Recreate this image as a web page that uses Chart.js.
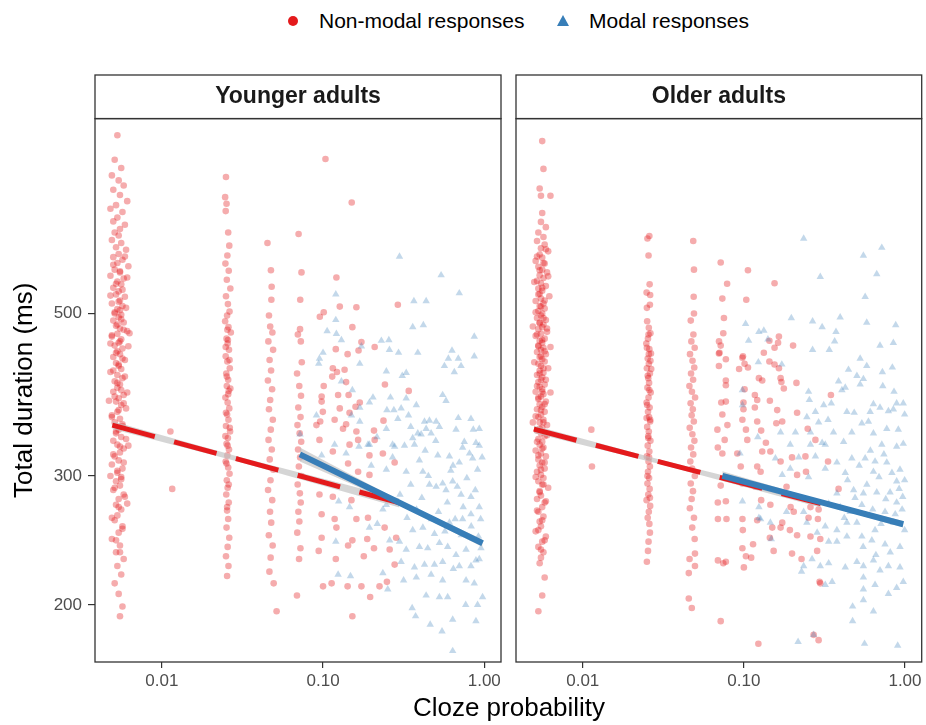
<!DOCTYPE html>
<html>
<head>
<meta charset="utf-8">
<script src="https://cdn.jsdelivr.net/npm/chart.js@4.4.1/dist/chart.umd.min.js"></script>
<style>
  body { margin: 0; background: #fff; font-family: "Liberation Sans", Arial, sans-serif; }
  #wrap { position: relative; width: 926px; height: 725px; overflow: hidden; }
  #wrap canvas { position: absolute; top: 0; }
  .lg-text { position: absolute; top: 8px; font-size: 21px; line-height: 26px; color: #000; white-space: nowrap; }
  .lg-dot { position: absolute; left: 288px; top: 16px; width: 10px; height: 10px; border-radius: 50%; background: #E41A1C; }
  .lg-tri { position: absolute; left: 557px; top: 15px; width: 0; height: 0;
            border-left: 6px solid transparent; border-right: 6px solid transparent; border-bottom: 11px solid #377EB8; }
  #xtitle { position: absolute; left: 309px; width: 400px; top: 692px; text-align: center; font-size: 26px; line-height: 30px; color: #000; }
</style>
</head>
<body>
<div id="wrap">
  <div class="lg-dot"></div>
  <div class="lg-text" style="left:319px">Non-modal responses</div>
  <div class="lg-tri"></div>
  <div class="lg-text" style="left:589px">Modal responses</div>
  <canvas id="youngChart" width="510" height="725" style="left:0"></canvas>
  <canvas id="olderChart" width="416" height="725" style="left:510px"></canvas>
  <div id="xtitle">Cloze probability</div>
</div>
<script>
// Cloze probability vs total duration, by age group

const panelTitles = ['Younger adults', 'Older adults'];
const xTicks = [0.01, 0.1, 1];
const yTicks = [200, 300, 500];

// younger adults: [cloze, duration]
const youngNonModal = [
  [0.0053,876],[0.0051,811],[0.0056,790],[0.0049,772],[0.0054,760],[0.0058,748],[0.0050,738],[0.0055,726],[0.0061,712],[0.0052,703],
  [0.0048,695],[0.0057,688],[0.0053,676],[0.0050,668],[0.0059,661],[0.0055,652],[0.0051,645],[0.0054,639],[0.0049,630],[0.0056,624],
  [0.0052,616],[0.0060,611],[0.0054,603],[0.0050,597],[0.0057,592],[0.0053,586],[0.0062,580],[0.0051,574],[0.0055,569],[0.0048,563],
  [0.0058,558],[0.0053,553],[0.0056,548],[0.0050,542],[0.0054,536],[0.0052,531],[0.0059,527],[0.0055,521],[0.0049,516],[0.0057,512],
  [0.0053,507],[0.0051,502],[0.0056,498],[0.0054,494],[0.0050,489],[0.0058,486],[0.0052,481],[0.0055,477],[0.0061,473],[0.0053,469],
  [0.0049,465],[0.0056,461],[0.0054,456],[0.0051,452],[0.0057,448],[0.0053,444],[0.0055,440],[0.0050,436],[0.0059,432],[0.0052,428],
  [0.0054,424],[0.0056,420],[0.0048,416],[0.0053,412],[0.0057,408],[0.0051,404],[0.0055,400],[0.0053,396],[0.0050,391],[0.0058,387],
  [0.0054,383],[0.0052,379],[0.0056,375],[0.0060,371],[0.0053,367],[0.0049,363],[0.0055,359],[0.0051,355],[0.0057,351],[0.0054,347],
  [0.0052,343],[0.0056,339],[0.0050,335],[0.0053,331],[0.0058,327],[0.0055,323],[0.0051,319],[0.0054,315],[0.0049,311],[0.0057,307],
  [0.0053,303],[0.0056,299],[0.0052,295],[0.0055,291],[0.0050,287],[0.0058,283],[0.0054,279],[0.0052,274],[0.0056,270],[0.0053,265],
  [0.0051,261],[0.0057,256],[0.0054,251],[0.0049,246],[0.0055,241],[0.0052,236],[0.0058,231],[0.0053,226],[0.0056,220],[0.0051,214],
  [0.0054,207],[0.0057,199],[0.0055,193],
  [0.0059,598],[0.0050,583],[0.0055,571],[0.0061,560],[0.0052,549],[0.0057,539],[0.0048,529],[0.0054,519],[0.0060,509],[0.0051,500],
  [0.0056,491],[0.0053,483],[0.0058,475],[0.0049,467],[0.0055,458],[0.0062,451],[0.0052,442],[0.0057,434],[0.0054,426],[0.0050,418],
  [0.0059,410],[0.0053,402],[0.0056,393],[0.0051,385],[0.0058,377],[0.0054,369],[0.0049,361],[0.0057,353],[0.0052,345],[0.0060,337],
  [0.0055,329],[0.0050,321],[0.0058,313],[0.0053,305],[0.0056,297],[0.0051,289],[0.0059,281],[0.0054,272],[0.0049,263],[0.0057,254],
  [0.0052,245],[0.0055,236],[0.0061,390],[0.0048,455],[0.0062,330],[0.0047,380],[0.0063,470],[0.0048,300],[0.0061,275],[0.0055,505],
  [0.0250,768],[0.0247,721],[0.0252,706],[0.0249,690],[0.0258,645],[0.0262,619],[0.0255,600],[0.0248,585],[0.0260,572],[0.0253,556],
  [0.0266,541],[0.0250,528],[0.0257,515],[0.0263,503],[0.0254,497],[0.0247,488],[0.0259,479],[0.0268,471],[0.0252,462],[0.0256,455],
  [0.0261,446],[0.0249,437],[0.0255,430],[0.0264,421],[0.0251,414],[0.0258,406],[0.0253,398],[0.0260,392],[0.0248,384],[0.0256,378],
  [0.0262,371],[0.0254,364],[0.0259,358],[0.0250,351],[0.0265,345],[0.0257,338],[0.0252,332],[0.0261,326],[0.0255,320],[0.0249,314],
  [0.0258,308],[0.0263,302],[0.0253,296],[0.0256,289],[0.0251,283],[0.0260,276],[0.0254,269],[0.0258,262],[0.0252,255],[0.0262,247],
  [0.0256,240],[0.0250,233],[0.0259,226],[0.0254,219],
  [0.0255,475],[0.0249,450],[0.0263,432],[0.0253,410],[0.0258,388],[0.0250,366],[0.0264,349],[0.0256,330],[0.0252,312],[0.0260,292],
  [0.0254,272],[0.0248,340],[0.0266,395],[0.0257,460],
  [0.0452,624],[0.0475,573],[0.0480,544],[0.0478,522],[0.0462,497],[0.0470,480],[0.0485,471],[0.0458,458],[0.0490,446],[0.0466,432],
  [0.0476,418],[0.0455,405],[0.0483,394],[0.0470,381],[0.0462,370],[0.0488,358],[0.0474,347],[0.0459,336],[0.0481,326],[0.0467,316],
  [0.0492,306],[0.0472,296],[0.0456,287],[0.0484,278],[0.0469,268],[0.0477,259],[0.0461,249],[0.0487,241],[0.0473,232],[0.0465,222],
  [0.0494,214],[0.0515,196],
  [0.0705,642],[0.0735,569],[0.0722,522],[0.0720,476],[0.0698,468],[0.0728,458],[0.0738,429],[0.0690,414],[0.0712,398],[0.0730,386],
  [0.0702,372],[0.0725,361],[0.0694,352],[0.0716,343],[0.0732,334],[0.0700,326],[0.0721,318],[0.0708,309],[0.0736,300],[0.0696,292],
  [0.0718,284],[0.0727,276],[0.0703,268],[0.0713,260],[0.0692,251],[0.0724,239],[0.0710,231],[0.0689,206],
  [0.1035,813],[0.1506,709],[0.121,560],[0.127,511],[0.161,510],[0.291,514],[0.0955,495],[0.101,502],[0.152,479],[0.173,457],
  [0.209,450],[0.166,445],[0.142,440],[0.120,447],[0.136,419],[0.122,416],[0.115,421],[0.114,410],[0.139,403],[0.101,398],
  [0.124,387],[0.144,387],[0.242,400],[0.340,392],[0.098,385],[0.098,379],[0.169,378],[0.159,373],[0.127,371],[0.146,366],
  [0.0997,367],[0.118,358],[0.096,356],[0.091,352],[0.139,353],[0.161,345],[0.207,346],[0.133,348],[0.165,336],[0.095,336],
  [0.237,357],[0.209,336],[0.115,324],[0.146,331],[0.194,320],[0.235,322],[0.278,313],[0.143,312],[0.165,304],[0.194,301],
  [0.115,281],[0.150,278],[0.095,283],[0.098,266],[0.161,262],[0.190,263],[0.241,255],[0.118,262],[0.121,255],[0.098,247],
  [0.188,246],[0.152,245],[0.143,241],[0.207,239],[0.259,238],[0.284,247],[0.094,237],[0.179,233],[0.120,231],[0.278,227],
  [0.100,212],[0.113,214],[0.142,212],[0.173,212],[0.224,212],[0.249,215],[0.196,205],[0.152,193],
  [0.0113,345],[0.0116,288]
];
const youngModal = [
  [0.298,598],[0.540,564],[0.700,533],[0.120,531],[0.366,520],[0.436,520],[0.120,490],[0.106,473],[0.121,469],[0.130,460],
  [0.360,479],[0.419,482],[0.230,459],[0.256,460],[0.867,465],[0.173,451],[0.258,446],[0.294,442],[0.387,442],[0.631,445],
  [0.599,434],[0.690,434],[0.867,437],[0.100,442],[0.095,434],[0.094,427],[0.169,427],[0.566,424],[0.718,424],[0.652,416],
  [0.247,417],[0.328,415],[0.310,411],[0.130,404],[0.152,393],[0.552,387],[0.579,380],[0.204,384],[0.194,378],[0.262,384],
  [0.328,383],[0.379,375],[0.169,372],[0.249,369],[0.275,369],[0.305,371],[0.339,363],[0.091,363],[0.150,363],[0.291,359],
  [0.426,356],[0.457,357],[0.503,356],[0.690,360],[0.827,359],[0.931,348],[0.855,347],[0.436,348],[0.527,350],[0.668,347],
  [0.247,348],[0.169,356],[0.387,343],[0.360,338],[0.468,343],[0.406,342],[0.752,334],[0.888,333],[0.270,331],[0.216,339],
  [0.194,331],[0.072,342],
  [0.098,320],[0.118,331],[0.139,322],[0.167,329],[0.190,331],[0.278,329],[0.320,330],[0.369,331],[0.734,328],[0.931,330],
  [0.199,310],[0.270,318],[0.396,315],[0.515,320],[0.608,319],[0.700,313],[0.847,317],[0.909,306],[0.416,304],[0.328,304],
  [0.247,306],[0.457,292],[0.503,290],[0.552,293],[0.637,295],[0.579,287],[0.718,283],[0.827,281],[0.931,272],[0.827,266],
  [0.734,262],[0.608,259],[0.491,250],[0.416,255],[0.360,253],[0.332,263],[0.247,274],[0.235,270],[0.125,277],[0.146,272],
  [0.217,258],[0.194,255],[0.259,245],[0.298,244],[0.328,238],[0.396,240],[0.446,239],[0.527,243],[0.593,240],[0.668,234],
  [0.771,238],[0.888,230],[0.954,239],[0.305,229],[0.369,225],[0.426,227],[0.491,227],[0.552,229],[0.643,224],[0.700,226],
  [0.827,226],[0.931,231],[0.120,244],[0.124,220],[0.148,219],[0.235,221],[0.252,210],[0.316,216],[0.379,218],[0.468,220],
  [0.552,216],[0.771,216],[0.867,214],[0.436,206],[0.527,205],[0.593,205],[0.767,200],[0.909,200],[0.976,205],[0.357,198],
  [0.375,193],[0.462,188],[0.637,191],[0.888,190],[0.547,184],[0.637,173],
  [0.450,300],[0.620,305],[0.780,298],[0.350,292],[0.680,290],[0.880,287],[0.410,280],[0.590,276],[0.740,272],[0.950,262],
  [0.520,268],[0.660,262],[0.830,256],[0.470,262],[0.300,283],[0.380,270],[0.570,252],[0.720,249],[0.920,248],[0.640,310],
  [0.500,335],[0.810,322],[0.430,325],[0.970,318],[0.350,350]
];

// older adults: [cloze, duration]
const olderNonModal = [
  [0.0056,860],[0.0057,788],[0.0054,741],[0.0055,724],[0.0063,724],[0.0056,686],[0.0055,667],[0.0059,656],[0.0053,645],[0.0057,636],
  [0.0052,628],[0.0058,621],[0.0055,614],[0.0061,608],[0.0054,602],[0.0056,596],[0.0051,590],[0.0058,585],[0.0053,579],[0.0056,574],
  [0.0060,569],[0.0054,564],[0.0057,559],[0.0052,554],[0.0055,550],[0.0059,545],[0.0053,541],[0.0056,537],[0.0054,532],[0.0062,528],
  [0.0055,524],[0.0051,520],[0.0057,516],[0.0054,512],[0.0058,508],[0.0053,504],[0.0056,500],[0.0055,497],[0.0052,493],[0.0059,490],
  [0.0054,486],[0.0057,483],[0.0056,479],[0.0053,476],[0.0060,472],[0.0055,469],[0.0051,466],[0.0058,462],[0.0054,459],[0.0056,456],
  [0.0053,452],[0.0057,449],[0.0055,446],[0.0052,443],[0.0059,440],[0.0054,436],[0.0056,433],[0.0058,430],[0.0053,427],[0.0055,424],
  [0.0061,421],[0.0054,418],[0.0057,415],[0.0052,412],[0.0056,409],[0.0055,406],[0.0053,403],[0.0058,400],[0.0054,397],[0.0056,394],
  [0.0051,391],[0.0057,388],[0.0055,385],[0.0053,382],[0.0059,379],[0.0054,376],[0.0056,373],[0.0052,370],[0.0058,367],[0.0055,364],
  [0.0053,361],[0.0057,358],[0.0054,355],[0.0060,352],[0.0056,349],[0.0052,346],[0.0055,343],[0.0058,340],[0.0053,337],[0.0056,334],
  [0.0054,331],[0.0057,328],[0.0051,325],[0.0055,322],[0.0059,319],[0.0053,316],[0.0056,313],[0.0054,310],[0.0058,307],[0.0052,304],
  [0.0055,301],[0.0057,298],[0.0053,295],[0.0056,292],[0.0061,289],[0.0054,286],[0.0055,282],[0.0052,279],[0.0058,276],[0.0056,272],
  [0.0053,268],[0.0057,264],[0.0054,260],[0.0055,256],[0.0051,252],[0.0059,248],[0.0056,244],[0.0053,240],[0.0057,236],[0.0055,232],
  [0.0054,228],[0.0058,218],[0.0056,206],[0.0053,196],
  [0.0059,612],[0.0052,598],[0.0057,586],[0.0054,573],[0.0061,562],[0.0050,552],[0.0056,542],[0.0053,531],[0.0058,521],[0.0055,511],
  [0.0051,502],[0.0057,493],[0.0054,485],[0.0060,477],[0.0052,468],[0.0056,460],[0.0053,451],[0.0058,444],[0.0055,437],[0.0050,429],
  [0.0057,421],[0.0054,414],[0.0059,406],[0.0052,398],[0.0056,391],[0.0053,384],[0.0058,376],[0.0055,369],[0.0051,362],[0.0057,355],
  [0.0054,348],[0.0060,341],[0.0052,334],[0.0056,327],[0.0053,320],[0.0058,313],[0.0055,306],[0.0051,299],[0.0057,292],[0.0054,285],
  [0.0059,277],[0.0052,269],[0.0056,261],[0.0053,253],[0.0058,245],[0.0055,238],[0.0063,450],[0.0049,480],[0.0063,390],[0.0049,355],
  [0.0259,638],[0.0252,633],[0.0256,600],[0.0260,548],[0.0249,534],[0.0262,530],[0.0261,514],[0.0250,509],[0.0251,488],[0.0257,478],
  [0.0263,470],[0.0254,462],[0.0248,455],[0.0259,447],[0.0265,441],[0.0253,434],[0.0257,427],[0.0250,421],[0.0261,414],[0.0255,408],
  [0.0258,402],[0.0252,396],[0.0264,390],[0.0256,384],[0.0249,378],[0.0260,372],[0.0254,367],[0.0258,361],[0.0262,356],[0.0251,350],
  [0.0257,345],[0.0255,340],[0.0263,335],[0.0253,330],[0.0259,324],[0.0250,319],[0.0256,314],[0.0261,309],[0.0254,304],[0.0258,298],
  [0.0252,293],[0.0260,288],[0.0255,283],[0.0249,278],[0.0262,273],[0.0257,268],[0.0253,263],[0.0259,258],[0.0261,251],[0.0256,244],
  [0.0254,237],[0.0250,229],
  [0.0256,468],[0.0250,449],[0.0263,431],[0.0253,411],[0.0259,393],[0.0251,375],[0.0262,358],[0.0255,338],[0.0258,318],[0.0252,300],
  [0.0261,280],[0.0249,360],[0.0266,420],[0.0257,440],
  [0.0485,628],[0.0490,574],[0.0488,527],[0.0490,500],[0.0468,489],[0.0486,468],[0.0472,458],[0.0495,449],[0.0463,440],[0.0480,431],
  [0.0492,422],[0.0470,414],[0.0484,406],[0.0459,398],[0.0476,391],[0.0498,384],[0.0467,377],[0.0482,370],[0.0474,363],[0.0489,356],
  [0.0461,349],[0.0479,342],[0.0493,335],[0.0470,328],[0.0485,321],[0.0465,314],[0.0477,307],[0.0496,300],[0.0468,293],[0.0483,286],
  [0.0474,279],[0.0462,271],[0.0490,263],[0.0478,255],[0.0495,246],[0.0497,235],[0.0460,231],[0.0497,226],[0.0455,221],[0.0455,204],
  [0.0475,198],
  [0.0718,587],[0.0787,549],[0.0735,524],[0.0752,493],[0.0745,470],[0.0701,458],[0.0718,452],[0.0706,442],[0.0700,441],[0.0773,433],
  [0.0700,424],[0.0773,405],[0.0773,399],[0.0724,378],[0.0773,379],[0.0735,364],[0.0685,347],[0.0790,352],[0.0760,336],[0.0689,328],
  [0.0735,322],[0.0718,291],[0.0689,276],[0.0773,277],[0.0690,262],[0.0780,262],[0.0690,230],[0.0745,228],[0.0773,229],[0.0718,190],
  [0.106,573],[0.1035,522],[0.155,550],[0.0987,437],[0.165,465],[0.202,452],[0.163,456],[0.144,459],[0.155,449],[0.133,442],
  [0.0979,435],[0.101,427],[0.106,422],[0.0934,420],[0.144,430],[0.155,426],[0.165,421],[0.124,408],[0.130,405],[0.169,408],
  [0.171,403],[0.212,402],[0.101,394],[0.177,395],[0.117,387],[0.0994,378],[0.121,381],[0.145,380],[0.347,387],[0.0994,370],
  [0.117,372],[0.161,369],[0.214,366],[0.0979,358],[0.121,356],[0.173,356],[0.103,347],[0.128,346],[0.159,354],[0.249,348],
  [0.278,336],[0.137,333],[0.105,336],[0.0910,322],[0.130,324],[0.146,324],[0.199,318],[0.241,319],[0.333,314],[0.0956,309],
  [0.121,309],[0.127,304],[0.169,314],[0.214,301],[0.243,304],[0.0979,293],[0.118,290],[0.184,290],[0.387,288],[0.128,278],
  [0.146,274],[0.195,272],[0.204,268],[0.259,272],[0.291,270],[0.098,262],[0.121,261],[0.150,255],[0.169,255],[0.173,259],
  [0.193,253],[0.252,263],[0.288,262],[0.214,249],[0.259,248],[0.298,246],[0.0985,253],[0.145,247],[0.114,242],[0.0979,239],
  [0.103,233],[0.111,232],[0.153,237],[0.199,235],[0.285,237],[0.100,225],[0.228,231],[0.295,215],[0.298,214],[0.123,177],
  [0.291,179],[0.271,182],[0.0113,347],[0.0114,309]
];
const olderModal = [
  [0.235,633],[0.718,615],[0.552,600],[0.298,561],[0.668,566],[0.566,527],[0.197,493],[0.267,488],[0.396,494],[0.579,486],
  [0.876,482],[0.306,479],[0.373,472],[0.1025,484],[0.133,474],[0.124,472],[0.107,459],[0.141,461],[0.366,458],[0.700,452],
  [0.847,456],[0.267,446],[0.339,446],[0.527,434],[0.123,429],[0.172,426],[0.579,424],[0.835,422],[0.446,419],[0.503,411],
  [0.552,407],[0.724,416],[0.387,404],[0.527,400],[0.728,398],[0.406,393],[0.426,396],[0.855,391],[0.252,391],[0.0979,393],
  [0.255,381],[0.313,375],[0.349,377],[0.637,376],[0.888,377],[0.976,377],[0.278,367],[0.436,367],[0.484,366],[0.608,367],
  [0.700,372],[0.789,368],[0.847,370],[0.995,364],[0.333,358],[0.291,355],[0.246,361],[0.209,344],[0.360,344],[0.468,344],
  [0.540,354],[0.593,356],[0.771,348],[0.909,347],[0.637,343],[0.169,344],[0.122,339],[0.259,344],[0.306,333],[0.098,375],
  [0.194,331],[0.259,331],[0.320,331],[0.416,334],[0.718,331],[0.888,329],[0.976,332],[0.157,317],[0.219,318],[0.278,319],
  [0.378,313],[0.468,317],[0.566,317],[0.652,314],[0.771,313],[0.931,306],[0.173,301],[0.194,307],[0.252,299],[0.320,307],
  [0.426,303],[0.637,304],[0.888,295],[0.995,296],[0.378,284],[0.480,287],[0.552,284],[0.668,285],[0.808,285],[0.968,281],
  [0.888,276],[0.752,268],[0.540,274],[0.457,268],[0.396,272],[0.336,275],[0.235,268],[0.184,268],[0.124,272],[0.098,277],
  [0.124,263],[0.146,259],[0.320,256],[0.378,253],[0.436,259],[0.503,259],[0.652,253],[0.847,259],[0.995,253],[0.246,259],
  [0.285,251],[0.336,244],[0.378,244],[0.436,248],[0.540,248],[0.623,245],[0.752,242],[0.931,240],[0.265,231],[0.235,226],
  [0.298,226],[0.336,228],[0.426,225],[0.503,229],[0.552,226],[0.637,230],[0.700,223],[0.789,226],[0.931,225],[0.228,222],
  [0.320,213],[0.353,215],[0.552,218],[0.552,210],[0.552,203],[0.637,196],[0.652,213],[0.888,211],[0.976,215],[0.789,207],
  [0.473,199],[0.473,190],[0.217,178],[0.271,182],[0.561,177],[0.901,176],[0.148,246],[0.0946,322],[0.127,262],
  [0.610,325],[0.740,321],[0.520,310],[0.830,303],[0.440,296],[0.690,299],[0.580,292],[0.920,288],[0.490,280],[0.760,279],
  [0.630,270],[0.870,266],[0.420,263],[0.710,258],[0.960,270],[0.550,240],[0.810,236],[0.660,234]
];

// fitted lines and their bands: x, fit, lower, upper
const youngNonModalFitX = [0.00493, 0.03, 0.298];
const youngNonModalFit  = [352, 316.1, 275.6];
const youngNonModalLow  = [347.8, 313.6, 271.7];
const youngNonModalHigh = [356.2, 318.6, 279.5];
const youngModalFitX = [0.0718, 0.3, 0.976];
const youngModalFit  = [321, 275.5, 242.8];
const youngModalLow  = [314, 273.6, 239.9];
const youngModalHigh = [328, 277.4, 245.7];
const olderNonModalFitX = [0.00497, 0.03, 0.3];
const olderNonModalFit  = [347.5, 313.6, 275];
const olderNonModalLow  = [343.3, 311.4, 271.7];
const olderNonModalHigh = [351.7, 315.8, 278.3];
const olderModalFitX = [0.0735, 0.3, 0.976];
const olderModalFit  = [300, 276.2, 257.7];
const olderModalLow  = [295.5, 274.5, 255.1];
const olderModalHigh = [304.5, 277.9, 260.3];

const RED = '#E41A1C';
const BLUE = '#377EB8';
const FONT = '"Liberation Sans", Arial, sans-serif';
Chart.defaults.font.family = FONT;

const toXY = pts => pts.map(p => ({ x: p[0], y: p[1] }));
const zipXY = (xs, ys) => xs.map((x, i) => ({ x: x, y: ys[i] }));

// box around the panel and the strip on top of it
const panelFrame = {
  id: 'panelFrame',
  afterDraw(chart) {
    const { ctx, chartArea: a } = chart;
    ctx.save();
    ctx.strokeStyle = '#333333';
    ctx.lineWidth = 1.3;
    ctx.strokeRect(a.left, a.top, a.right - a.left, a.bottom - a.top);
    ctx.strokeRect(a.left, 75, a.right - a.left, a.top - 75);
    ctx.restore();
  }
};

function makeDatasets(nonModal, modal, nmX, nmFit, nmLow, nmHigh, mX, mFit, mLow, mHigh) {
  const band = 'rgba(190,190,190,0.65)';
  return [
    { data: toXY(nonModal), pointStyle: 'circle', pointRadius: 3.3, borderWidth: 0,
      backgroundColor: 'rgba(228,26,28,0.36)', order: 11 },
    { data: toXY(modal), pointStyle: 'triangle', pointRadius: 4.3, borderWidth: 0,
      backgroundColor: 'rgba(55,126,184,0.3)', order: 10 },
    { type: 'line', data: zipXY(nmX, nmLow), borderWidth: 0, pointRadius: 0, fill: false, order: 5 },
    { type: 'line', data: zipXY(nmX, nmHigh), borderWidth: 0, pointRadius: 0, fill: '-1', backgroundColor: band, order: 5 },
    { type: 'line', data: zipXY(mX, mLow), borderWidth: 0, pointRadius: 0, fill: false, order: 4 },
    { type: 'line', data: zipXY(mX, mHigh), borderWidth: 0, pointRadius: 0, fill: '-1', backgroundColor: band, order: 4 },
    { type: 'line', data: zipXY(nmX, nmFit), borderColor: RED, borderWidth: 5, borderDash: [44, 20],
      borderCapStyle: 'butt', pointRadius: 0, fill: false, order: 1 },
    { type: 'line', data: zipXY(mX, mFit), borderColor: BLUE, borderWidth: 6,
      borderCapStyle: 'butt', pointRadius: 0, fill: false, order: 0 }
  ];
}

function makeOptions(title, showY, padding) {
  return {
    responsive: false,
    animation: false,
    events: [],
    layout: { padding: padding },
    plugins: {
      legend: { display: false },
      tooltip: { enabled: false },
      title: {
        display: true, text: title, fullSize: false, color: '#1a1a1a',
        font: { size: 23, weight: 'bold', family: FONT },
        padding: { top: 8, bottom: 8 }
      }
    },
    scales: {
      x: {
        type: 'logarithmic', min: 0.00385, max: 1.27,
        afterBuildTicks: s => { s.ticks = xTicks.map(v => ({ value: v })); },
        afterFit: s => { s.height = 63; },
        ticks: { callback: v => Number(v).toFixed(2), color: '#4d4d4d', font: { size: 17 },
                 padding: 3, maxRotation: 0, autoSkip: false },
        grid: { drawOnChartArea: false, drawTicks: true, tickLength: 6, color: '#333333', lineWidth: 1.2 },
        border: { display: false }
      },
      y: {
        type: 'logarithmic', min: 167.1, max: 923, display: showY,
        afterBuildTicks: s => { s.ticks = yTicks.map(v => ({ value: v })); },
        afterFit: s => { if (showY) s.width = 95; },
        ticks: { callback: v => String(v), color: '#4d4d4d', font: { size: 17 }, padding: 6 },
        grid: { drawOnChartArea: false, drawTicks: true, tickLength: 7, color: '#333333', lineWidth: 1.2 },
        border: { display: false },
        title: { display: true, text: 'Total duration (ms)', color: '#000', font: { size: 26 },
                 padding: { top: 9, bottom: 0 } }
      }
    }
  };
}

new Chart(document.getElementById('youngChart'), {
  type: 'scatter',
  data: { datasets: makeDatasets(youngNonModal, youngModal,
    youngNonModalFitX, youngNonModalFit, youngNonModalLow, youngNonModalHigh,
    youngModalFitX, youngModalFit, youngModalLow, youngModalHigh) },
  options: makeOptions(panelTitles[0], true, { top: 75, left: 0, right: 9, bottom: 0 }),
  plugins: [panelFrame]
});

new Chart(document.getElementById('olderChart'), {
  type: 'scatter',
  data: { datasets: makeDatasets(olderNonModal, olderModal,
    olderNonModalFitX, olderNonModalFit, olderNonModalLow, olderNonModalHigh,
    olderModalFitX, olderModalFit, olderModalLow, olderModalHigh) },
  options: makeOptions(panelTitles[1], false, { top: 75, left: 6, right: 3, bottom: 0 }),
  plugins: [panelFrame]
});
</script>
</body>
</html>
